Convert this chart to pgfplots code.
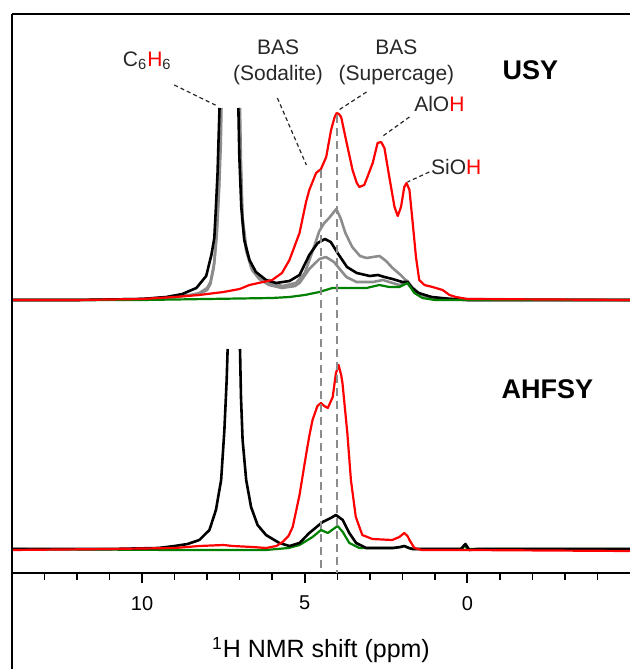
\documentclass[border=0pt]{standalone}
\usepackage{fontspec}
\setmainfont{Liberation Sans}
\usepackage{pgfplots}
\pgfplotsset{compat=1.18}
\definecolor{nmrgreen}{RGB}{0,128,0}
\definecolor{nmrgrey}{RGB}{140,140,140}
\definecolor{lbl}{RGB}{40,40,40}

\pgfplotsset{
  cblack/.style={black, line width=1.3pt},
  cgrey/.style={nmrgrey, line width=1.3pt},
  cred/.style={red, line width=1.1pt},
  cgreen/.style={nmrgreen, line width=1.1pt},
}

\begin{document}
\begin{tikzpicture}
\begin{axis}[
  name=ax,
  scale only axis,
  width=309pt, height=280pt,
  x dir=reverse,
  xmin=-5, xmax=14,
  ymin=0, ymax=560,
  axis x line*=bottom,
  axis y line=none,
  ytick=\empty,
  xtick={0,5,10},
  minor xtick={-4,-3,-2,-1,1,2,3,4,6,7,8,9,11,12,13},
  tick align=outside,
  major tick length=5pt,
  minor tick length=3.5pt,
  every major tick/.append style={line width=1pt, black},
  every minor tick/.append style={line width=0.75pt, black},
  axis line style={line width=0.9pt, black, -},
  /pgf/number format/assume math mode=true,
  xticklabel style={font=\fontsize{10}{12}\selectfont, yshift=-3pt},
  xlabel={\textsuperscript{1}H NMR shift (ppm)},
  xlabel style={font=\fontsize{12.5}{15}\selectfont, at={(axis description cs:0.5,0)}, anchor=center, yshift=-38.5pt},
  no markers,
  line join=round,
  clip=false,
]

% ---- USY ----
% grey, upper
\addplot[cgrey] coordinates {
  (14,273)(12,273)(10,274)(9.0,276)(8.5,278)(8.24,280)(8.0,285)(7.9,291)
  (7.78,310)(7.70,340)(7.63,385)(7.58,430)(7.56,465)
};
\addplot[cgrey] coordinates {
  (6.99,465)(6.96,410)(6.91,355)(6.80,326)(6.65,306)(6.39,296)(6.09,290)
  (5.68,287)(5.27,290)(5.0,300)(4.8,318)(4.55,342)(4.40,350)(4.25,355)
  (4.03,364)(3.90,355)(3.75,340)(3.54,326)(3.3,317)(3.1,315)(2.9,316)
  (2.7,317)(2.5,312)(2.3,305)(2.05,298)(1.9,293)(1.84,292)(1.7,286)
  (1.5,280)(1.3,277)(1.0,275)(0.5,274)(0,273)(-5,273)
};
% grey, lower
\addplot[cgrey] coordinates {
  (14,273)(12,273)(10,274)(9.0,276)(8.5,278)(8.24,279)(8.0,283)(7.9,289)
  (7.80,305)(7.72,335)(7.65,380)(7.60,430)(7.58,465)
};
\addplot[cgrey] coordinates {
  (7.01,465)(6.97,410)(6.92,352)(6.80,322)(6.62,303)(6.40,294)(6.1,288)
  (5.7,285)(5.3,287)(5.16,290)(4.86,304)(4.55,314)(4.35,316)(4.1,311)
  (3.9,303)(3.72,296)(3.41,291)(2.9,291)(2.6,293)(2.1,288)(1.85,290)
  (1.6,281)(1.3,277)(1.0,275)(0.5,274)(-5,273)
};
% black
\addplot[cblack] coordinates {
  (14,273)(12,273)(10,274)(9.25,276)(8.76,279)(8.55,282)(8.33,285)
  (8.03,297)(7.87,318)(7.78,335)(7.73,366)(7.68,400)(7.65,433)(7.62,465)
};
\addplot[cblack] coordinates {
  (7.04,465)(7.01,416)(6.95,366)(6.86,333)(6.70,313)(6.50,301)(6.19,293)
  (5.88,290)(5.47,292)(5.16,298)(4.86,318)(4.60,330)(4.38,334)(4.20,331)
  (3.95,318)(3.70,306)(3.40,300)(3.0,297)(2.75,298)(2.55,296)(2.3,294)
  (2.0,291)(1.84,291)(1.7,285)(1.5,280)(1.1,276)(0.5,274)(0,273)(-5,273)
};
% green
\addplot[cgreen] coordinates {
  (14,273)(10,273)(8,274)(6,275)(5.47,276)(5.0,278)(4.55,281)(4.15,285)
  (3.84,285)(3.1,285)(2.71,288)(2.40,286)(2.09,286)(1.84,290)(1.63,280)
  (1.38,275)(1.0,273)(-5,273)
};
% red
\addplot[cred] coordinates {
  (14,273)(12,273)(10,274)(9.0,276)(8.24,278)(7.5,281)(7.0,284)(6.7,288)
  (6.0,293)(5.7,300)(5.47,313)(5.16,340)(4.96,371)(4.86,383)(4.65,400)
  (4.50,404)(4.34,416)(4.19,443)(4.08,456)(4.02,460)(3.95,459)(3.88,456)
  (3.73,433)(3.53,403)(3.40,390)(3.32,386)(3.17,388)(3.05,398)(2.91,410)
  (2.76,430)(2.65,431)(2.55,425)(2.40,396)(2.24,366)(2.14,357)(2.04,366)
  (1.94,386)(1.87,390)(1.78,383)(1.68,350)(1.58,316)(1.48,293)(1.32,288)
  (1.07,286)(0.76,283)(0.55,278)(0.35,276)(0,274)(-5,273)
};

% ---- AHFSY ----
\addplot[cgreen] coordinates {
  (14,24)(9,23)(7,23)(6.2,23)(5.5,25)(5.16,28)(4.76,36)(4.50,43)(4.29,40)
  (3.99,47)(3.83,41)(3.63,30)(3.32,25)(2.2,25)(1.94,27)(1.7,24)(0.15,24)
  (0.09,28)(0.0,24)(-5,24)
};
\addplot[cblack] coordinates {
  (14,24)(11,24)(9.5,25)(9.0,27)(8.6,29)(8.24,33)(7.93,43)(7.73,63)
  (7.57,93)(7.47,143)(7.40,193)(7.37,224)
};
\addplot[cblack] coordinates {
  (6.99,224)(6.96,176)(6.91,133)(6.80,93)(6.65,66)(6.45,48)(6.19,38)
  (5.78,30)(5.47,27)(5.16,30)(4.86,40)(4.45,51)(4.20,55)(4.04,58)(3.83,53)
  (3.63,40)(3.42,30)(3.11,25)(2.30,25)(2.05,26)(1.94,27)(1.8,25)(1.68,24)
  (0.2,24)(0.06,29)(-0.06,23)(-0.3,24)(-5,24)
};
\addplot[cred] coordinates {
  (14,23)(11,24)(9,25)(8.24,27)(7.5,28)(7.21,27)(6.6,26)(6.19,25)(5.87,27)
  (5.68,31)(5.50,37)(5.37,46)(5.16,78)(4.96,118)(4.86,137)(4.76,153)
  (4.61,167)(4.50,170)(4.40,167)(4.29,165)(4.14,176)(4.04,200)(3.96,208)
  (3.88,198)(3.84,190)(3.69,140)(3.58,93)(3.43,56)(3.23,38)(2.92,34)
  (2.31,33)(2.09,36)(1.94,40)(1.84,37)(1.78,33)(1.63,25)(1.4,23)(0,23)(-5,22)
};

% reference lines at 4.5 and 4.0 ppm
\draw[nmrgrey, line width=1pt, dash pattern=on 4pt off 2.5pt] (axis cs:4.5,403) -- (axis cs:4.5,0);
\draw[nmrgrey, line width=1pt, dash pattern=on 4pt off 2.5pt] (axis cs:4.0,458) -- (axis cs:4.0,0);

% leader lines
\draw[lbl, line width=0.6pt, dash pattern=on 2pt off 1.5pt] (axis cs:9.01,488) -- (axis cs:7.69,467);
\draw[lbl, line width=0.6pt, dash pattern=on 2pt off 1.5pt] (axis cs:5.84,475) -- (axis cs:4.95,408);
\draw[lbl, line width=0.6pt, dash pattern=on 2pt off 1.5pt] (axis cs:3.10,481) -- (axis cs:4.00,462);
\draw[lbl, line width=0.6pt, dash pattern=on 2pt off 1.5pt] (axis cs:1.78,456) -- (axis cs:2.64,436);
\draw[lbl, line width=0.6pt, dash pattern=on 2pt off 1.5pt] (axis cs:1.17,401) -- (axis cs:1.84,391);

% labels
\node[lbl, font=\fontsize{10.5}{13}\selectfont] at (axis cs:9.84,512) {C\textsubscript{6}\textcolor{red}{H}\textsubscript{6}};
\node[lbl, font=\fontsize{10.5}{13}\selectfont, align=center] at (axis cs:5.82,511) {BAS\\(Sodalite)};
\node[lbl, font=\fontsize{10.5}{13}\selectfont, align=center] at (axis cs:2.18,511) {BAS\\(Supercage)};
\node[lbl, font=\fontsize{10.5}{13}\selectfont] at (axis cs:0.86,469) {AlO\textcolor{red}{H}};
\node[lbl, font=\fontsize{10.5}{13}\selectfont] at (axis cs:0.34,406) {SiO\textcolor{red}{H}};
\node[font=\fontsize{13.5}{16}\selectfont\bfseries] at (axis cs:-1.94,503) {USY};
\node[font=\fontsize{13.5}{16}\selectfont\bfseries] at (axis cs:-2.46,184) {AHFSY};

% frame: top edge of the plot area
\draw[black, line width=1.2pt] (axis cs:14,559) -- (axis cs:-5,559);
\coordinate (TL) at (axis cs:14,559);
\coordinate (TR) at (axis cs:-5,559);
\coordinate (BL) at (axis cs:14,0);
\end{axis}
% left edge, running down past the x axis
\draw[black, line width=1.2pt] (TL) -- ([yshift=-50pt]BL);
\pgfresetboundingbox
\path[use as bounding box] ([xshift=-6pt,yshift=-48pt]BL) rectangle ([yshift=7pt]TR);
\end{tikzpicture}
\end{document}
